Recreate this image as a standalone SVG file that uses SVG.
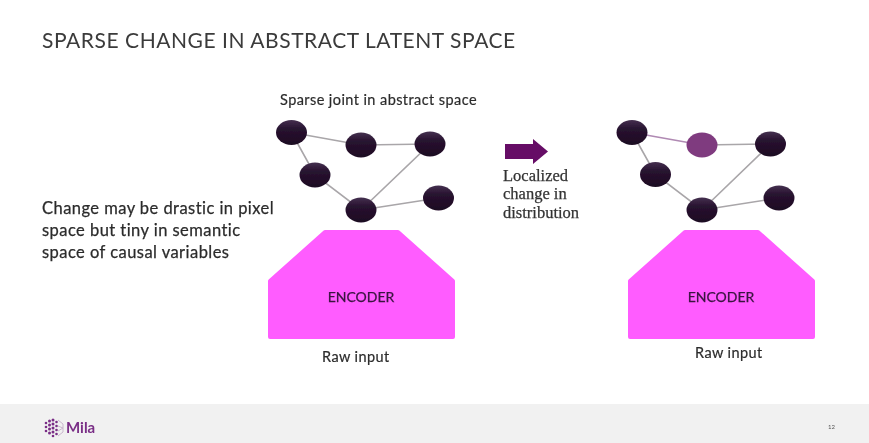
<svg xmlns="http://www.w3.org/2000/svg" width="869" height="443" viewBox="0 0 869 443">
<style>
text{font-family:"Lato","Open Sans","Liberation Sans",sans-serif;fill:#333}
.body{font-size:16.500px;letter-spacing:.45px;fill:#2c2c2c;stroke:#2c2c2c;stroke-width:.25}
.label{font-size:14.500px;letter-spacing:.42px;fill:#2c2c2c;stroke:#2c2c2c;stroke-width:.2}
.enc{font-size:14px;fill:#3a1440;stroke:#3a1440;stroke-width:.25;text-anchor:middle}
.serif{font-family:"Liberation Serif",serif;font-size:16.500px;fill:#333;stroke:#333;stroke-width:.25}
.edge{stroke:#a9a6a9;stroke-width:1.600;fill:none}
.pink{fill:#ff5cff;stroke:#ff5cff;stroke-width:4;stroke-linejoin:round}
.n{fill:url(#ng)}
</style>
<defs>
<linearGradient id="ng" x1="0" y1="0" x2="0" y2="1">
<stop offset="0" stop-color="#45304f"/><stop offset=".35" stop-color="#281330"/><stop offset="1" stop-color="#1d0a22"/>
</linearGradient>
<filter id="soft" x="0" y="0" width="100%" height="100%"><feGaussianBlur stdDeviation=".45"/></filter>
</defs>
<rect width="869" height="443" fill="#fff"/>
<rect y="404" width="869" height="39" fill="#f1f1f1"/>
<g filter="url(#soft)">
<text x="42" y="48" font-size="21" letter-spacing=".55" style="fill:#3a3a3a">SPARSE CHANGE IN ABSTRACT LATENT SPACE</text>
<text class="label" x="280" y="105">Sparse joint in abstract space</text>
<text class="body" x="42" y="214">Change may be drastic in pixel</text>
<text class="body" x="42" y="236">space but tiny in semantic</text>
<text class="body" x="42" y="258">space of causal variables</text>

<g id="connectors">
<path class="edge" d="M291.500 132.500L361 145L430 144L361 210L315 175L291.500 132.500M361 210L438.500 198"/>
<path class="edge" d="M702 145L770.500 144L702 210L655.500 174.500L632 132.500M702 210L779 198"/>
<path d="M632 132.500L702 145" fill="none" stroke="#b08ab3" stroke-width="1.600"/>
</g>

<g id="left-nodes">
<ellipse id="l1" class="n" cx="291.500" cy="132.500" rx="15.500" ry="12.500"/>
<ellipse id="l2" class="n" cx="361" cy="145" rx="15.500" ry="12.500"/>
<ellipse id="l3" class="n" cx="430" cy="144" rx="15.500" ry="12.500"/>
<ellipse id="l4" class="n" cx="315" cy="175" rx="15.500" ry="12.500"/>
<ellipse id="l5" class="n" cx="361" cy="210" rx="15.500" ry="12.500"/>
<ellipse id="l6" class="n" cx="438.500" cy="198" rx="15.500" ry="12.500"/>
</g>
<g id="right-nodes">
<ellipse id="r1" class="n" cx="632" cy="132.500" rx="15.500" ry="12.500"/>
<ellipse id="r2" cx="702" cy="145" rx="15.500" ry="12.500" fill="#7f3a7f"/>
<ellipse id="r3" class="n" cx="770.500" cy="144" rx="15.500" ry="12.500"/>
<ellipse id="r4" class="n" cx="655.500" cy="174.500" rx="15.500" ry="12.500"/>
<ellipse id="r5" class="n" cx="702" cy="210" rx="15.500" ry="12.500"/>
<ellipse id="r6" class="n" cx="779" cy="198" rx="15.500" ry="12.500"/>
</g>

<g id="encoder-left">
<polygon class="pink" points="325,232 398,232 453,281 453,337 270,337 270,281"/>
<text class="enc" x="361" y="302">ENCODER</text>
</g>
<g id="encoder-right">
<polygon class="pink" points="685,232 758,232 813,281 813,337 630,337 630,281"/>
<text class="enc" x="721" y="302">ENCODER</text>
</g>
<text class="label" x="322" y="362">Raw input</text>
<text class="label" x="695" y="358">Raw input</text>

<g id="change-arrow">
<polygon points="505,144 533,144 533,139 548,151.500 533,164 533,159 505,159" fill="#660a66"/>
<text class="serif" x="503" y="181">Localized</text>
<text class="serif" x="503" y="199">change in</text>
<text class="serif" x="503" y="218">distribution</text>
</g>

<g id="logo">
<g fill="#7a2f86">
<circle cx="46" cy="423" r="1.300"/><circle cx="46" cy="427" r="1.300"/><circle cx="46" cy="431" r="1.300"/>
<circle cx="49.500" cy="421" r="1.500"/><circle cx="49.500" cy="425" r="1.500"/><circle cx="49.500" cy="429" r="1.500"/><circle cx="49.500" cy="433" r="1.500"/>
<circle cx="53" cy="420" r="1.500"/><circle cx="53" cy="424" r="1.500"/><circle cx="53" cy="428" r="1.500"/><circle cx="53" cy="432" r="1.500"/><circle cx="53" cy="436" r="1.300"/>
<circle cx="56.500" cy="422" r="1.300"/><circle cx="56.500" cy="426" r="1.300"/><circle cx="56.500" cy="430" r="1.300"/><circle cx="56.500" cy="434" r="1.300"/>
</g>
<path d="M58 420L63 424V432L58 436M58 426L63 428L58 431" fill="none" stroke="#c9b6cc" stroke-width="1"/>
<text x="66" y="433" font-size="15" font-weight="700" style="fill:#7a2f86">Mila</text>
</g>
<text x="828" y="429" font-size="6" style="fill:#555">12</text>
</g>
</svg>
